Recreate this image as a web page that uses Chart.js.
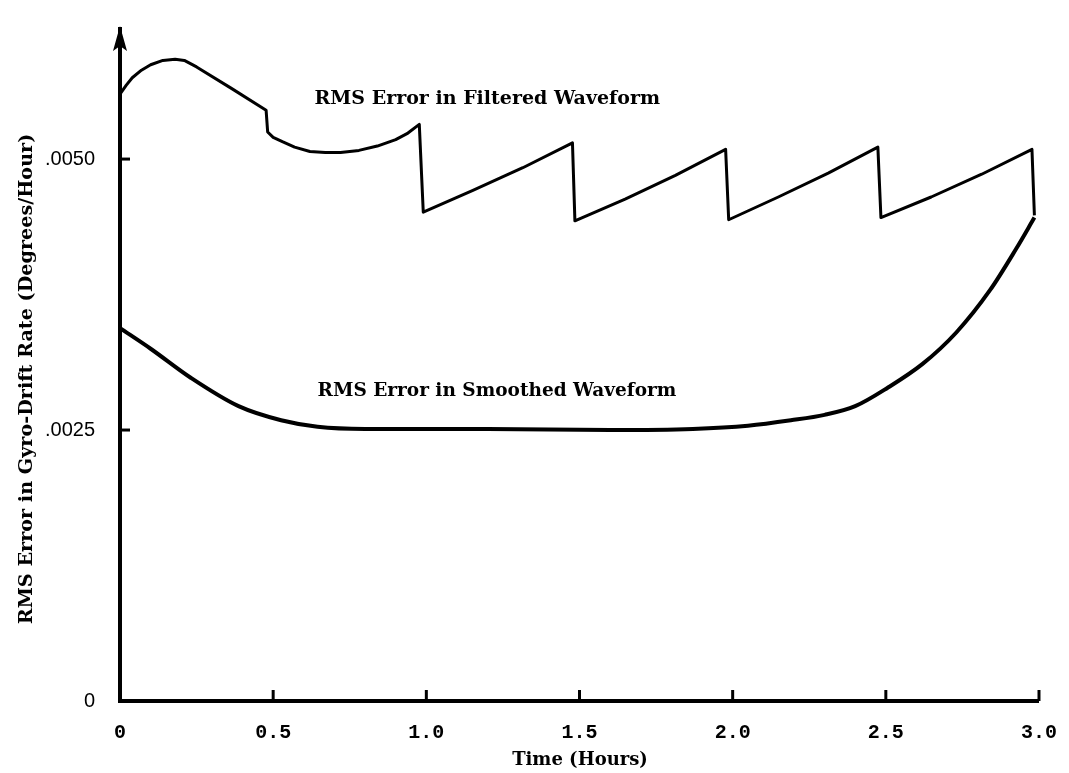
<!DOCTYPE html>
<html>
<head>
<meta charset="utf-8">
<script src="https://cdn.jsdelivr.net/npm/chart.js@4.4.1/dist/chart.umd.min.js"></script>
<style>
  html, body { margin: 0; padding: 0; background: #fff; }
  #wrap { width: 1069px; height: 773px; }
</style>
</head>
<body>
<div id="wrap"><canvas id="chart" width="1069" height="773"></canvas></div>
<script>
const xTicks = [0, 0.5, 1.0, 1.5, 2.0, 2.5, 3.0];
const xTickLabels = ['0', '0.5', '1.0', '1.5', '2.0', '2.5', '3.0'];
const yTicks = [0, 0.0025, 0.005];
const yTickLabels = ['0', '.0025', '.0050'];

// filtered waveform, saw-tooth that resets every half hour
const filteredTime = [0, 0.02, 0.04, 0.07, 0.10, 0.14, 0.18, 0.21, 0.25, 0.365, 0.477,
  0.482, 0.50, 0.53, 0.57, 0.62, 0.67, 0.72, 0.78, 0.84, 0.90, 0.94, 0.977,
  0.99, 1.152, 1.315, 1.477,
  1.485, 1.649, 1.813, 1.977,
  1.987, 2.149, 2.312, 2.474,
  2.484, 2.648, 2.813, 2.977, 2.985];
const filteredError = [0.00560, 0.00568, 0.00575, 0.00582, 0.00587, 0.00591, 0.00592, 0.00591, 0.00585, 0.00565, 0.00545,
  0.00525, 0.00520, 0.00516, 0.00511, 0.00507, 0.00506, 0.00506, 0.00508, 0.00512, 0.00518, 0.00524, 0.00532,
  0.00451, 0.00471, 0.00492, 0.00515,
  0.00443, 0.00463, 0.00485, 0.00509,
  0.00444, 0.00465, 0.00487, 0.00511,
  0.00446, 0.00465, 0.00486, 0.00509, 0.00448];

// smoothed waveform
const smoothedTime = [0, 0.1, 0.232, 0.387, 0.526, 0.645, 0.8, 1.2, 1.6, 1.87, 2.05, 2.19, 2.30, 2.40, 2.506, 2.62, 2.73, 2.84, 2.925, 2.985];
const smoothedError = [0.00344, 0.00325, 0.00298, 0.00272, 0.00259, 0.00253, 0.00251, 0.00251, 0.00250, 0.00251, 0.00254, 0.00259, 0.00264, 0.00272, 0.00289, 0.00311, 0.00340, 0.00379, 0.00417, 0.00446];

const xTitle = 'Time (Hours)';
const yTitle = 'RMS Error in Gyro-Drift Rate (Degrees/Hour)';
const curveLabels = [
  { text: 'RMS Error in Filtered Waveform', t: 0.635, v: 0.00555, width: 346 },
  { text: 'RMS Error in Smoothed Waveform', t: 0.645, v: 0.00286, width: 358 },
];

const serif = '"DejaVu Serif", serif';

// pick a bold size so the text spans the given width
const fitFont = (ctx, text, family, width) => {
  ctx.font = `bold 20px ${family}`;
  const size = 20 * width / ctx.measureText(text).width;
  return `bold ${size.toFixed(1)}px ${family}`;
};

const toPoints = (xs, ys) => xs.map((x, i) => ({ x, y: ys[i] }));

const paperAxes = {
  id: 'paperAxes',
  afterDraw(chart) {
    const { ctx, chartArea, scales } = chart;
    const { x, y } = scales;
    ctx.save();
    ctx.strokeStyle = '#000';
    ctx.fillStyle = '#000';
    ctx.lineWidth = 3;

    // inward tick marks
    xTicks.slice(1).forEach(v => {
      const px = x.getPixelForValue(v);
      ctx.beginPath();
      ctx.moveTo(px, chartArea.bottom);
      ctx.lineTo(px, chartArea.bottom - 11);
      ctx.stroke();
    });
    yTicks.slice(1).forEach(v => {
      const py = y.getPixelForValue(v);
      ctx.beginPath();
      ctx.moveTo(chartArea.left, py);
      ctx.lineTo(chartArea.left + 10, py);
      ctx.stroke();
    });

    // arrow head on the y axis
    const ax = chartArea.left;
    ctx.beginPath();
    ctx.moveTo(ax, chartArea.top - 3);
    ctx.lineTo(ax - 7, chartArea.top + 22);
    ctx.lineTo(ax, chartArea.top + 17);
    ctx.lineTo(ax + 7, chartArea.top + 22);
    ctx.closePath();
    ctx.fill();

    // curve labels
    ctx.textBaseline = 'middle';
    ctx.textAlign = 'left';
    curveLabels.forEach(l => {
      ctx.font = fitFont(ctx, l.text, serif, l.width);
      ctx.fillText(l.text, x.getPixelForValue(l.t), y.getPixelForValue(l.v));
    });

    // axis titles
    ctx.textAlign = 'center';
    ctx.font = fitFont(ctx, xTitle, serif, 136);
    ctx.fillText(xTitle, 580, 760);

    ctx.translate(27, 379);
    ctx.rotate(-Math.PI / 2);
    ctx.font = fitFont(ctx, yTitle, serif, 492);
    ctx.fillText(yTitle, 0, 0);
    ctx.restore();
  }
};

new Chart(document.getElementById('chart'), {
  type: 'line',
  data: {
    datasets: [
      {
        label: 'Filtered',
        data: toPoints(filteredTime, filteredError),
        borderColor: '#000',
        borderWidth: 3,
        tension: 0,
        borderJoinStyle: 'round',
        pointRadius: 0,
        fill: false,
      },
      {
        label: 'Smoothed',
        data: toPoints(smoothedTime, smoothedError),
        borderColor: '#000',
        borderWidth: 4,
        cubicInterpolationMode: 'monotone',
        pointRadius: 0,
        fill: false,
      }
    ]
  },
  options: {
    responsive: false,
    animation: false,
    layout: { padding: { top: 12, right: 19, left: 0, bottom: 0 } },
    plugins: {
      legend: { display: false },
      tooltip: { enabled: false },
    },
    scales: {
      x: {
        type: 'linear',
        min: 0,
        max: 3.0,
        grid: { display: false },
        border: { display: true, color: '#000', width: 4 },
        afterBuildTicks: scale => { scale.ticks = xTicks.map(value => ({ value })); },
        afterFit: scale => { scale.height = 72; },
        ticks: {
          color: '#000',
          padding: 12,
          font: { family: '"Liberation Mono", monospace', weight: 'bold', size: 20 },
          callback: (value, index) => xTickLabels[index],
        },
      },
      y: {
        min: 0,
        max: 0.0062,
        grid: { display: false },
        border: { display: true, color: '#000', width: 4 },
        afterBuildTicks: scale => { scale.ticks = yTicks.map(value => ({ value })); },
        afterFit: scale => { scale.width = 120; },
        ticks: {
          color: '#000',
          padding: 17,
          font: { family: '"Liberation Sans", sans-serif', size: 20 },
          callback: (value, index) => yTickLabels[index],
        },
      }
    }
  },
  plugins: [paperAxes]
});
</script>
</body>
</html>
